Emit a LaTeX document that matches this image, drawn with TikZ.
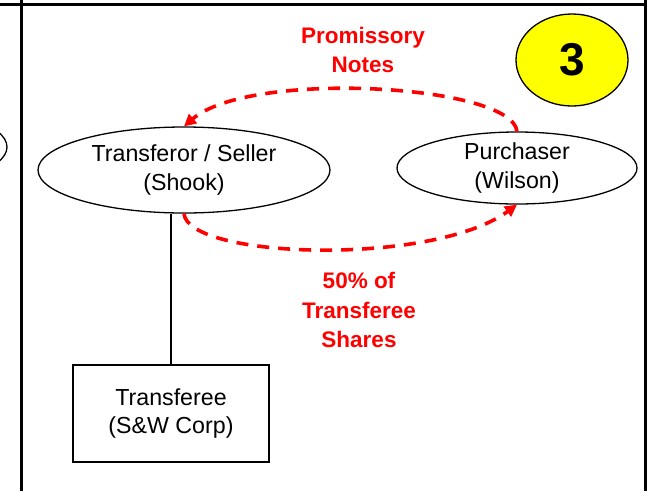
\documentclass[tikz,border=0pt]{standalone}
\usepackage{fontspec}
\setmainfont{Liberation Sans}
\usetikzlibrary{shapes.geometric,arrows.meta}
\definecolor{flowred}{RGB}{255,0,0}
\definecolor{badgeyellow}{RGB}{255,255,0}
\begin{document}
\begin{tikzpicture}[x=1pt,y=-1pt,
		party/.style={draw,ellipse,line width=1.3pt,inner sep=0pt,align=center,font=\fontsize{23.2}{28.5}\selectfont},
		entity/.style={draw,rectangle,line width=1.3pt,inner sep=0pt,align=center,font=\fontsize{23.2}{28}\selectfont},
		flow/.style={flowred,line width=3.6pt,dash pattern=on 12pt off 9pt,-{Triangle[length=12pt,width=12pt]}},
		flowlabel/.style={flowred,align=center,font=\fontsize{22.5}{29.5}\selectfont\bfseries}]
			\clip (0,0) rectangle (647,491);
			\draw [line width=3pt] (0,4.5) -- (647,4.5);
			\draw [line width=3pt] (21.7,0) -- (21.7,491);
			\draw [line width=3pt] (645.5,0) -- (645.5,491);
			\draw [line width=1.3pt] (-113,147) ellipse [x radius=120, y radius=40];
			\node [party,minimum width=292pt,minimum height=86pt] (seller) at (184,170) {Transferor / Seller\\(Shook)};
			\node [party,minimum width=240pt,minimum height=72pt] (buyer) at (517,168) {Purchaser\\(Wilson)};
			\node [entity,minimum width=196pt,minimum height=97pt] (corp) at (171,413.5) {Transferee\\(S\&W Corp)};
			\node [draw,ellipse,fill=badgeyellow,line width=1.3pt,inner sep=0pt,minimum width=112pt,minimum height=92pt,font=\fontsize{46}{46}\selectfont\bfseries] (badge) at (572,60) {3};
			\node [flowlabel] (notes) at (363,50) {Promissory\\Notes};
			\node [flowlabel] (shares) at (359,310) {50\% of\\Transferee\\Shares};
			\draw [line width=1.3pt] (corp.north) -- (corp.north |- seller.south);
			\draw [flow] (buyer.north) .. controls +(-5,-47) and +(66,-57) .. (seller.north);
			\draw [flow] (seller.south) .. controls +(4,45) and +(-85,62) .. (buyer.south);
		\end{tikzpicture}
\end{document}
